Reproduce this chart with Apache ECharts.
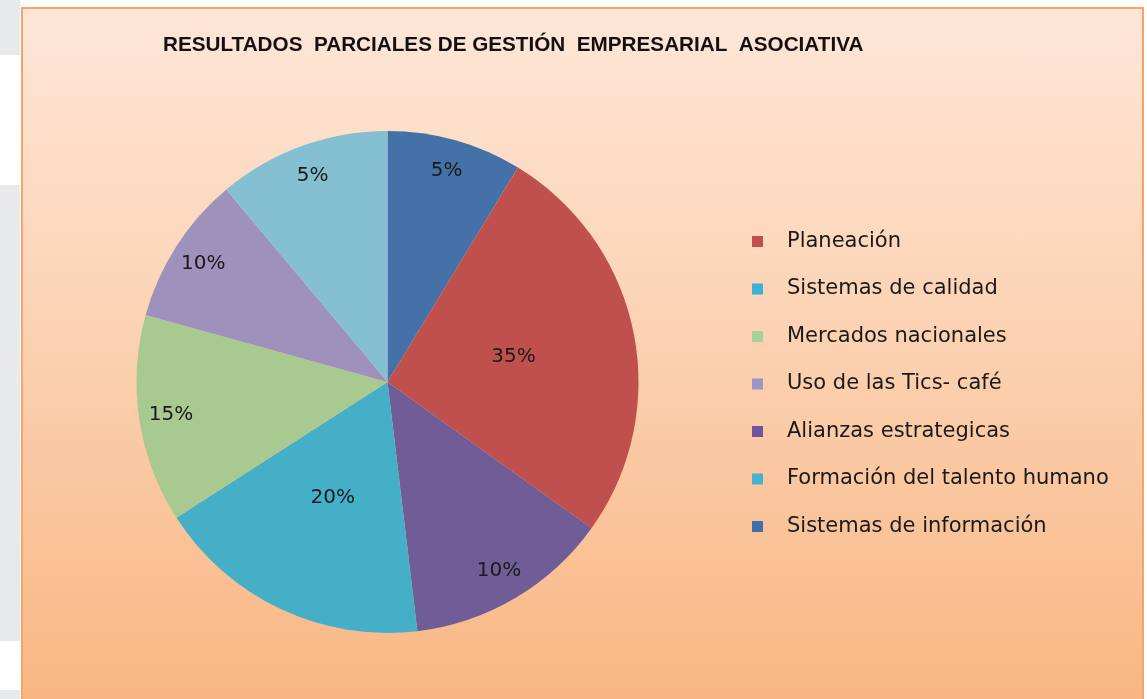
<!DOCTYPE html>
<html lang="es">

<head>
  <meta charset="UTF-8">
  <title>Resultados parciales</title>
  <script src="https://cdn.jsdelivr.net/npm/echarts@6/dist/echarts.min.js"></script>
  <style>
    html, body { margin: 0; padding: 0; width: 1147px; height: 699px; overflow: hidden; background: #fff; }
    .strip { position: absolute; left: 0; width: 20px; background: #e8e9eb; }
    #frame {
      position: absolute; left: 21px; top: 7px; width: 1119px; height: 700px;
      border: 2px solid #f8a469;
      background: linear-gradient(to bottom, #fee6d7 0%, #fcd5b8 40%, #f8b682 100%);
    }
    #main { position: absolute; left: 0; top: 0; width: 1147px; height: 699px; }
  </style>
</head>

<body>
  <!-- trozos de la pagina de fondo -->
  <div class="strip" style="top:0;height:55px"></div>
  <div class="strip" style="top:185px;height:456px"></div>
  <div class="strip" style="top:690px;height:9px"></div>
  <div id="frame"></div>
  <div id="main"></div>

  <script>
    // orden de las porciones, en sentido horario desde las 12
    var names = ['Sistemas de información', 'Planeación', 'Alianzas estrategicas',
      'Formación del talento humano', 'Mercados nacionales', 'Uso de las Tics- café', 'Sistemas de calidad'];
    // tamaño de cada porción (%)
    var values = [8.7, 26.2, 13.2, 17.8, 13.4, 9.6, 11.1];
    // textos de etiqueta tal como aparecen
    var labels = ['5%', '35%', '10%', '20%', '15%', '10%', '5%'];
    var colors = ['#4472a8', '#c0504d', '#705c96', '#45afc8', '#a8c98f', '#9e91bc', '#84bfd2'];

    // orden de la leyenda
    var legendNames = ['Planeación', 'Sistemas de calidad', 'Mercados nacionales', 'Uso de las Tics- café',
      'Alianzas estrategicas', 'Formación del talento humano', 'Sistemas de información'];
    var legendColors = ['#c0504d', '#3db1d3', '#a4d29a', '#9d95c6', '#6f559f', '#45b3d0', '#3d6fab'];

    // etiquetas cerca del centro (el resto va cerca del borde)
    var innerLabels = [1, 3];

    var font = 'DejaVu Sans';
    var pieCenter = [387.5, 382];
    var pieR = 251;

    var pieData = names.map(function (n, i) {
      return {
        name: n,
        value: values[i],
        itemStyle: { color: colors[i] },
        label: { show: innerLabels.indexOf(i) >= 0 }
      };
    });
    var ringData = names.map(function (n, i) {
      return {
        name: n,
        value: values[i],
        label: { show: innerLabels.indexOf(i) < 0 }
      };
    });

    var myChart = echarts.init(document.getElementById('main'), null, { renderer: 'canvas' });
    var option = {
      backgroundColor: 'transparent',
      animation: false,
      title: {
        text: 'RESULTADOS  PARCIALES DE GESTIÓN  EMPRESARIAL  ASOCIATIVA',
        left: 158,
        top: 30,
        textStyle: { fontFamily: 'Liberation Sans', fontWeight: 'bold', fontSize: 20.7, color: '#111' }
      },
      legend: {
        orient: 'vertical',
        left: 747,
        top: 226,
        icon: 'rect',
        itemWidth: 11,
        itemHeight: 11,
        itemGap: 26.5,
        selectedMode: false,
        textStyle: { fontFamily: font, fontSize: 21, lineHeight: 19, color: '#1a1a1a', padding: [0, 0, 0, 19] },
        data: legendNames.map(function (n, i) {
          return { name: n, itemStyle: { color: legendColors[i] } };
        })
      },
      series: [{
        type: 'pie',
        center: pieCenter,
        radius: [0, pieR],
        startAngle: 90,
        clockwise: true,
        avoidLabelOverlap: false,
        itemStyle: { borderWidth: 0 },
        emphasis: { disabled: true },
        label: {
          position: 'inside',
          fontFamily: font,
          fontSize: 20,
          color: '#1a1a1a',
          formatter: function (p) { return labels[p.dataIndex]; }
        },
        labelLine: { show: false },
        data: pieData
      }, {
        // solo etiquetas, sobre un anillo invisible
        type: 'pie',
        center: pieCenter,
        radius: [181, pieR],
        startAngle: 90,
        clockwise: true,
        silent: true,
        avoidLabelOverlap: false,
        legendHoverLink: false,
        itemStyle: { color: 'rgba(0,0,0,0)', borderWidth: 0 },
        emphasis: { disabled: true },
        label: {
          position: 'inside',
          fontFamily: font,
          fontSize: 20,
          color: '#1a1a1a',
          formatter: function (p) { return labels[p.dataIndex]; }
        },
        labelLine: { show: false },
        data: ringData
      }]
    };
    myChart.setOption(option);
  </script>
</body>

</html>
